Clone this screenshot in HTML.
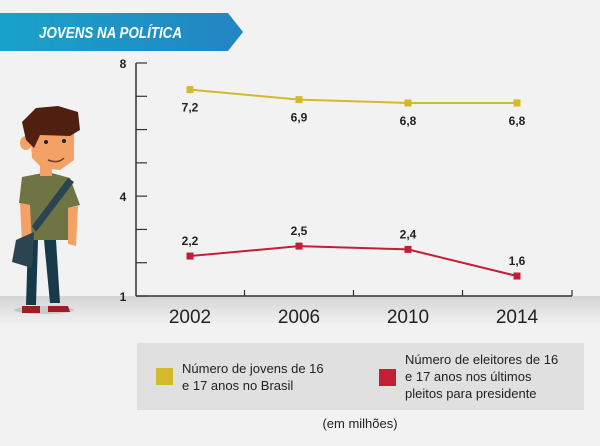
<!DOCTYPE html>
<html><head><meta charset="utf-8"><style>
body{margin:0;width:600px;height:441px;overflow:hidden;background:#f2f2f2;font-family:"Liberation Sans",sans-serif}
</style></head><body>
<svg id="chart" width="600" height="441" xmlns="http://www.w3.org/2000/svg">
<defs>
<linearGradient id="ban" x1="0" x2="1"><stop offset="0" stop-color="#19a3c9"/><stop offset="1" stop-color="#2384c4"/></linearGradient>
<linearGradient id="floor" x1="0" y1="0" x2="0" y2="1"><stop offset="0" stop-color="#d4d4d4"/><stop offset="1" stop-color="#f2f2f2"/></linearGradient>
</defs>
<rect x="0" y="296" width="600" height="30" fill="url(#floor)"/>
<g>
<polygon points="0,13 228,13 243,32 228,51 0,51" fill="url(#ban)"/>
<text x="39" y="38" fill="#fff" font-size="16" font-weight="bold" font-style="italic" textLength="143" lengthAdjust="spacingAndGlyphs">JOVENS NA POLÍTICA</text>
</g>
<g>
<ellipse cx="44" cy="310" rx="30" ry="4" fill="#c8c8c8"/>
<path d="M28 240 L38 240 L36 305 L26 305 Z" fill="#173a4a"/>
<path d="M44 240 L56 240 L60 303 L50 303 Z" fill="#173a4a"/>
<path d="M22 306 L40 306 L40 313 L22 313 Z" fill="#9c1d24"/>
<path d="M48 306 L68 306 L70 312 L48 312 Z" fill="#9c1d24"/>
<path d="M22 177 L48 172 L70 178 L80 205 L68 208 L68 240 L28 240 L30 205 L19 203 Z" fill="#6f7445"/>
<path d="M20 203 L30 205 L32 243 L22 243 Z" fill="#f4a165"/>
<path d="M68 208 L78 206 L76 246 L68 244 Z" fill="#f4a165"/>
<path d="M68 178 L74 182 L36 232 L32 226 Z" fill="#2a4452"/>
<path d="M16 240 L34 232 L32 268 L12 262 Z" fill="#2a4452"/>
<rect x="40" y="162" width="12" height="14" fill="#f4a165"/>
<path d="M30 130 L74 126 L74 160 L60 170 L42 168 L32 158 Z" fill="#f4a165"/>
<ellipse cx="26" cy="143" rx="6" ry="7" fill="#f4a165"/>
<path d="M22 122 L36 108 L58 106 L78 112 L80 130 L70 136 L40 135 L34 148 L26 140 Z" fill="#4f1f10"/>
<circle cx="46" cy="142" r="2" fill="#222"/><circle cx="64" cy="141" r="2" fill="#222"/>
<path d="M48 160 Q58 164 64 158" stroke="#7a3a22" fill="none" stroke-width="1.5"/>
</g>
<g id="axes"></g>
<g id="series"></g>
<g>
<rect x="137" y="343" width="447" height="67" fill="#e0e0e0"/>
<rect x="156" y="368" width="17" height="17" fill="#d4b92a"/>
<text font-size="13" fill="#222"><tspan x="182" y="373">Número de jovens de 16</tspan><tspan x="182" y="390">e 17 anos no Brasil</tspan></text>
<rect x="379" y="369" width="17" height="17" fill="#c31f34"/>
<text font-size="13" fill="#222"><tspan x="405" y="364">Número de eleitores de 16</tspan><tspan x="405" y="381">e 17 anos nos últimos</tspan><tspan x="405" y="398">pleitos para presidente</tspan></text>
</g>
<text x="360" y="428" font-size="13" fill="#222" text-anchor="middle">(em milhões)</text>
</svg>
<script>
const years=["2002","2006","2010","2014"];
const jovens=[7.2,6.9,6.8,6.8];
const eleitores=[2.2,2.5,2.4,1.6];
const jovensLabels=["7,2","6,9","6,8","6,8"];
const eleitoresLabels=["2,2","2,5","2,4","1,6"];
const yTickLabels=["1","4","8"];
const NS="http://www.w3.org/2000/svg";
const y=v=>296-(v-1)*(233/7);
const x=i=>190+i*109;
function mk(tag,attrs,parent,text){const e=document.createElementNS(NS,tag);for(const k in attrs)e.setAttribute(k,attrs[k]);if(text!=null)e.textContent=text;parent.appendChild(e);return e;}
const ax=document.getElementById('axes');
let e=mk('line',{x1:136,y1:63,x2:136,y2:296,stroke:'#333','stroke-width':1.5},ax);


e=mk('line',{x1:136,y1:296,x2:572,y2:296,stroke:'#333','stroke-width':1.5},ax);


for(let v=1;v<=8;v++){e=mk('line',{x1:136,y1:y(v),x2:147,y2:y(v),stroke:'#333','stroke-width':1.2},ax);

}
yTickLabels.forEach(t=>{e=mk('text',{x:123,y:y(+t)+5,'font-size':12,'font-weight':'bold','text-anchor':'middle',fill:'#222'},ax,t);

});
years.forEach((yr,i)=>{
if(i>0){e=mk('line',{x1:x(i)-54.5,y1:290,x2:x(i)-54.5,y2:296,stroke:'#333','stroke-width':1.2},ax);

}
e=mk('text',{x:x(i),y:323,'font-size':19,'text-anchor':'middle',fill:'#222'},ax,yr);

});
e=mk('line',{x1:572,y1:290,x2:572,y2:296,stroke:'#333','stroke-width':1.2},ax);


const sg=document.getElementById('series');
function series(vals,labels,color,name,below){
const p=mk('polyline',{points:vals.map((v,i)=>x(i)+','+y(v)).join(' '),fill:'none',stroke:color,'stroke-width':2},sg);


vals.forEach((v,i)=>{
const r=mk('rect',{x:x(i)-3.5,y:y(v)-3.5,width:7,height:7,fill:color},sg);


const t=mk('text',{x:x(i),y:below?y(v)+22:y(v)-11,'font-size':12,'font-weight':'bold','text-anchor':'middle',fill:'#222'},sg,labels[i]);

});}
series(jovens,jovensLabels,'#d4b92a','jovens',true);
series(eleitores,eleitoresLabels,'#c31f34','eleitores',false);
</script>
</body></html>
